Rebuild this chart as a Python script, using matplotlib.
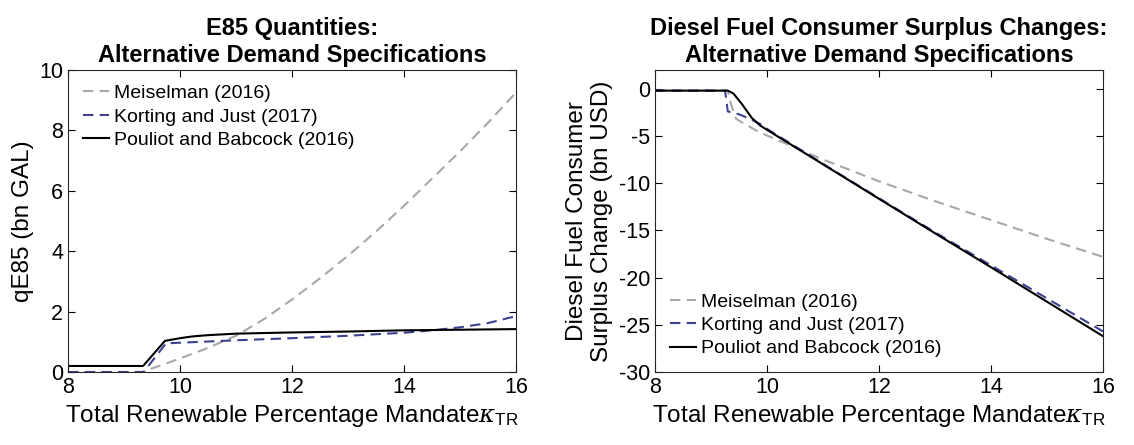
import matplotlib
matplotlib.use("Agg")
import matplotlib.pyplot as plt

plt.rcParams["font.family"] = ["Liberation Sans", "DejaVu Sans"]
plt.rcParams["mathtext.fontset"] = "custom"
plt.rcParams["mathtext.rm"] = "Liberation Sans"
plt.rcParams["mathtext.it"] = "DejaVu Serif:italic"
plt.rcParams["axes.unicode_minus"] = False

series_names = ["Meiselman (2016)", "Korting and Just (2017)", "Pouliot and Babcock (2016)"]

# E85 quantities (bn gallons) vs mandate
e85_meis_x = [8, 9.35, 9.5, 9.75, 10.0, 10.5, 11.0, 11.5, 12.0, 12.5, 13.0, 13.5, 14.0, 14.5, 15.0, 15.5, 16.0]
e85_meis_y = [0, 0, 0.12, 0.28, 0.45, 0.8, 1.2, 1.75, 2.4, 3.1, 3.85, 4.65, 5.5, 6.4, 7.3, 8.25, 9.25]
e85_kort_x = [8, 9.35, 9.75, 10.0, 11.0, 12.0, 13.0, 14.0, 14.5, 15.0, 15.5, 16.0]
e85_kort_y = [0, 0, 0.95, 0.97, 1.05, 1.12, 1.2, 1.3, 1.38, 1.48, 1.62, 1.85]
e85_poul_x = [8, 9.34, 9.73, 10.0, 10.23, 10.5, 11.0, 12.0, 13.0, 13.5, 14.0, 15.0, 16.0]
e85_poul_y = [0.2, 0.2, 1.03, 1.12, 1.18, 1.22, 1.27, 1.31, 1.34, 1.36, 1.38, 1.40, 1.42]

# Diesel consumer surplus change (bn USD) vs mandate
cs_meis_x = [8, 9.3, 9.35, 9.45, 9.8, 10.0, 11.0, 12.0, 13.0, 14.0, 15.0, 16.0]
cs_meis_y = [-0.2, -0.2, -1.5, -3.2, -4.4, -4.95, -7.5, -9.8, -11.9, -13.9, -15.9, -17.8]
cs_kort_x = [8, 9.25, 9.27, 9.3, 9.5, 9.7, 9.9, 10.0, 11.0, 12.0, 13.0, 14.0, 15.0, 16.0]
cs_kort_y = [-0.2, -0.2, -1.0, -2.4, -2.7, -3.2, -3.8, -4.25, -7.95, -11.6, -15.2, -18.7, -22.2, -25.7]
cs_poul_x = [8, 9.3, 9.4, 9.55, 9.73, 9.88, 10.0, 11.0, 12.0, 13.0, 14.0, 15.0, 16.0]
cs_poul_y = [-0.2, -0.2, -0.5, -1.6, -3.1, -3.9, -4.35, -8.0, -11.65, -15.3, -18.9, -22.55, -26.2]

x_ticks = [8, 10, 12, 14, 16]
e85_ticks = [0, 2, 4, 6, 8, 10]
cs_ticks = [0, -5, -10, -15, -20, -25, -30]

gray = "#a8a8a8"
navy = "#3d4190"
dash = (0, (5, 3))

fig = plt.figure(figsize=(11.34, 4.45), dpi=100)
ax1 = fig.add_axes([0.060, 0.164, 0.395, 0.679])
ax2 = fig.add_axes([0.5776, 0.164, 0.395, 0.679])

xlabel = r"Total Renewable Percentage Mandate$\kappa_{\mathrm{TR}}$"
legend_kw = dict(frameon=False, fontsize=14, handlelength=1.35,
                 handletextpad=0.25, labelspacing=0.3, borderaxespad=0.35)

def style(ax):
    ax.tick_params(direction="in", top=True, right=True, labelsize=15.5, length=5, width=0.8)
    for s in ax.spines.values():
        s.set_linewidth(0.8)
        s.set_color("#262626")
    ax.set_xlim(8, 16)
    ax.set_xticks(x_ticks)
    ax.set_xlabel(xlabel, fontsize=17.5)

ax1.plot(e85_meis_x, e85_meis_y, color=gray, lw=1.5, ls=dash, label=series_names[0])
ax1.plot(e85_kort_x, e85_kort_y, color=navy, lw=1.5, ls=dash, label=series_names[1])
ax1.plot(e85_poul_x, e85_poul_y, color="black", lw=1.5, label=series_names[2])
style(ax1)
ax1.set_ylim(0, 10)
ax1.set_yticks(e85_ticks)
ax1.set_ylabel("qE85 (bn GAL)", fontsize=17.5)
ax1.set_title("E85 Quantities:\nAlternative Demand Specifications", fontsize=17, fontweight="bold")
ax1.legend(loc="upper left", **legend_kw)

ax2.plot(cs_meis_x, cs_meis_y, color=gray, lw=1.5, ls=dash, label=series_names[0])
ax2.plot(cs_kort_x, cs_kort_y, color=navy, lw=1.5, ls=dash, label=series_names[1])
ax2.plot(cs_poul_x, cs_poul_y, color="black", lw=1.5, label=series_names[2])
style(ax2)
ax2.set_ylim(-30, 2)
ax2.set_yticks(cs_ticks)
ax2.set_ylabel("Diesel Fuel Consumer\nSurplus Change (bn USD)", fontsize=17.5)
ax2.set_title("Diesel Fuel Consumer Surplus Changes:\nAlternative Demand Specifications", fontsize=17, fontweight="bold")
ax2.legend(loc="lower left", **legend_kw)

fig.savefig("out.png", dpi=100)
